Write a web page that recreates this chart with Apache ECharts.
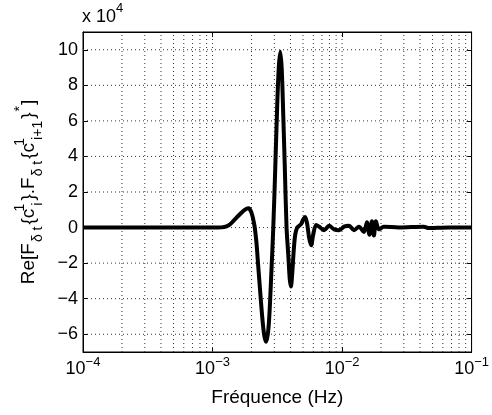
<!DOCTYPE html>
<html><head><meta charset="utf-8">
<script src="https://cdn.jsdelivr.net/npm/echarts@6/dist/echarts.min.js"></script>
<style>html,body{margin:0;padding:0;background:#fff}#c{width:492px;height:415px}</style>
</head><body><div id="c"></div>
<script>
// Frequency (Hz) and Re[...] values (in units of 1e4)
const freqHz = [1e-4, 5e-4, 1.0e-3, 1.173e-3, 1.281e-3, 1.375e-3, 1.476e-3, 1.613e-3, 1.762e-3, 1.891e-3,
  1.995e-3, 2.103e-3, 2.180e-3, 2.239e-3, 2.299e-3, 2.424e-3, 2.512e-3, 2.589e-3, 2.672e-3, 2.744e-3,
  2.843e-3, 2.945e-3, 3.052e-3, 3.162e-3, 3.247e-3, 3.335e-3, 3.424e-3, 3.517e-3, 3.611e-3, 3.728e-3,
  3.842e-3, 3.946e-3, 4.030e-3, 4.124e-3, 4.235e-3, 4.349e-3, 4.506e-3, 4.668e-3, 4.837e-3, 5.012e-3,
  5.193e-3, 5.380e-3, 5.574e-3, 5.776e-3, 5.984e-3, 6.310e-3, 6.653e-3, 7.268e-3, 7.943e-3, 8.679e-3,
  9.482e-3, 1.036e-2, 1.132e-2, 1.237e-2, 1.351e-2, 1.476e-2, 1.557e-2, 1.627e-2, 1.701e-2, 1.762e-2,
  1.826e-2, 1.925e-2, 2.103e-2, 2.744e-2, 4.273e-2, 4.668e-2, 6.653e-2, 0.1];
const valueE4 = [0, 0, 0, 0.01, 0.06, 0.2, 0.43, 0.72, 0.98, 1.08,
  0.85, 0.15, -0.8, -1.9, -3.0, -5.1, -6.1, -6.42, -6.0, -5.0,
  -2.6, 0.0, 3.4, 7.0, 9.0, 9.89, 8.9, 6.3, 3.5, 0.0,
  -1.5, -2.9, -3.32, -2.6, -1.3, -0.4, 0.0, 0.1, 0.2, 0.45,
  0.6, 0.2, -0.6, -1.0, -0.4, 0.15, 0.05, -0.15, 0.1, -0.1,
  -0.15, 0.05, 0.1, -0.15, 0.05, -0.25, 0.3, -0.4, 0.35, -0.45,
  0.35, -0.1, 0.05, 0, 0.05, -0.03, 0, 0];
const yTicks = [-6, -4, -2, 0, 2, 4, 6, 8, 10];
const xDecades = [1e-4, 1e-3, 1e-2, 1e-1];
const minorMult = [1, 2, 3, 4, 5, 6, 7, 8, 9];
const yRange = [-7, 11];

const FONT = '"Liberation Sans", Arial, Helvetica, sans-serif';
const chart = echarts.init(document.getElementById('c'), null, {renderer: 'canvas'});

const seriesData = freqHz.map((f, i) => [f, valueE4[i]]);
const gridStyle = {type: [1, 3], color: '#333', width: 1};
const gridSeries = [];
for (let d = 0; d < 3; d++) {
  for (const m of minorMult) {
    if (d === 0 && m === 1) continue;
    const v = xDecades[d] * m;
    gridSeries.push({type: 'line', silent: true, symbol: 'none', z: 1, lineStyle: gridStyle,
      data: [[v, yRange[0]], [v, yRange[1]]]});
  }
}
for (const y of yTicks) {
  gridSeries.push({type: 'line', silent: true, symbol: 'none', z: 1, lineStyle: gridStyle,
    data: [[xDecades[0], y], [xDecades[3], y]]});
}
const minus = s => String(s).replace('-', '\u2212');

const nameRich = {
  b: {fontSize: 19, fontFamily: FONT, color: '#000', lineHeight: 32},
  p: {fontSize: 14, fontFamily: FONT, color: '#000', lineHeight: 13, verticalAlign: 'top', padding: [0, 1, 0, 1]},
  s: {fontSize: 14, fontFamily: FONT, color: '#000', lineHeight: 13, verticalAlign: 'bottom', padding: [0, 2, 0, 1]},
  pz: {fontSize: 14, fontFamily: FONT, color: '#000', lineHeight: 13, verticalAlign: 'top', width: 2}
};
const titleRich = {
  b: {fontSize: 18, fontFamily: FONT, color: '#000', lineHeight: 30},
  p: {fontSize: 13, fontFamily: FONT, color: '#000', lineHeight: 12, verticalAlign: 'top'}
};

const tickStyle = {show: true, inside: true, length: 5, lineStyle: {color: '#000', width: 1}};
const axisLineStyle = {show: true, onZero: false, lineStyle: {color: '#000', width: 1}};

chart.setOption({
  animation: false,
  backgroundColor: '#fff',
  title: {
    text: '{b|x 10}{p|4}',
    left: 82, top: 2, padding: 0,
    textStyle: {rich: titleRich, fontSize: 18, fontFamily: FONT, color: '#000', fontWeight: 'normal'}
  },
  grid: {left: 83, right: 19, top: 32, bottom: 63, show: true, borderColor: '#000', borderWidth: 1},
  xAxis: [{
    type: 'log', logBase: 10, min: 1e-4, max: 0.1, position: 'bottom',
    name: 'Fréquence (Hz)', nameLocation: 'middle', nameGap: 36,
    nameTextStyle: {fontSize: 19, fontFamily: FONT, color: '#000'},
    axisLine: axisLineStyle,
    axisTick: tickStyle,
    splitLine: {show: false},
    axisLabel: {
      margin: 4,
      formatter: v => '{b|10}{p|' + minus(Math.round(Math.log10(v))) + '}',
      rich: {
        b: {fontSize: 18, fontFamily: FONT, color: '#000', lineHeight: 18, padding: [8, 0, 0, 0]},
        p: {fontSize: 13, fontFamily: FONT, color: '#000', lineHeight: 13, verticalAlign: 'top'}
      }
    }
  }, {
    type: 'log', logBase: 10, min: 1e-4, max: 0.1, position: 'top',
    axisLine: axisLineStyle,
    axisTick: tickStyle, axisLabel: {show: false}, splitLine: {show: false}
  }],
  yAxis: [{
    type: 'value', min: yRange[0], max: yRange[1], position: 'left',
    name: '{b|Re[F}{s|δ t}{b|{c}{pz|1}{s|i}}{b|.F}{s|δ t}{b|{c}{pz|1}{s|i+1}}{p|*}{b|]}',
    nameLocation: 'middle', nameRotate: 90, nameGap: 38,
    nameTextStyle: {rich: nameRich, fontSize: 19, fontFamily: FONT, color: '#000', lineHeight: 32},
    axisLine: axisLineStyle,
    axisTick: Object.assign({customValues: yTicks}, tickStyle),
    splitLine: {show: false},
    axisLabel: {customValues: yTicks, margin: 5, fontSize: 18, fontFamily: FONT, color: '#000',
      formatter: v => minus(v)}
  }, {
    type: 'value', min: yRange[0], max: yRange[1], position: 'right',
    axisLine: axisLineStyle,
    axisTick: Object.assign({customValues: yTicks}, tickStyle),
    axisLabel: {show: false}, splitLine: {show: false}
  }],
  series: gridSeries.concat([{
    type: 'line', xAxisIndex: 0, yAxisIndex: 0,
    data: seriesData, showSymbol: false, symbol: 'none', smooth: 0.3,
    lineStyle: {color: '#000', width: 4}, z: 3
  }])
});
</script></body></html>
